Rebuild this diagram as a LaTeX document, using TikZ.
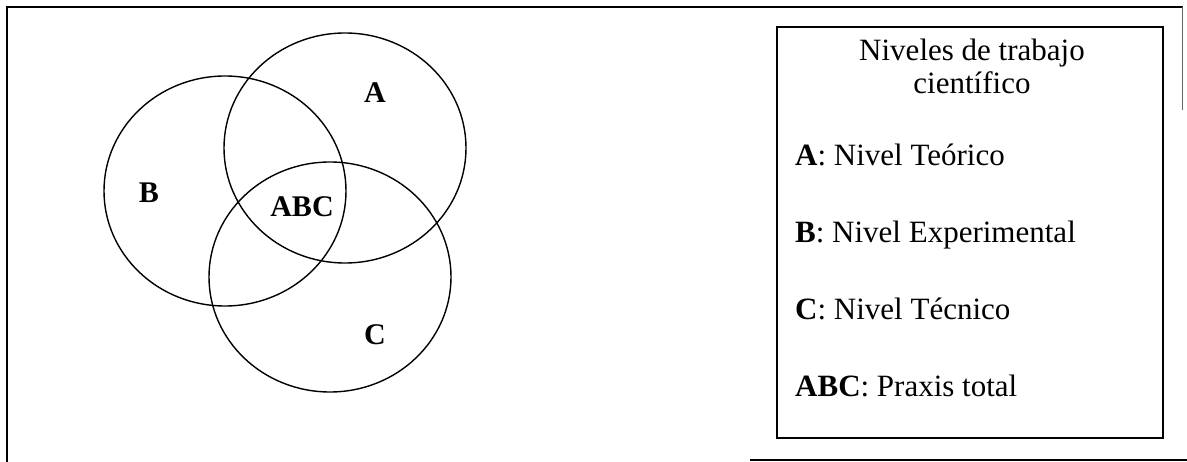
\documentclass[tikz,border=0pt]{standalone}
\usepackage{fontspec}
\setmainfont{Liberation Serif}

\tikzset{
  conjunto/.style={line width=1.4pt, black},
  marco/.style={line width=1.8pt, black},
  etiqueta/.style={font=\fontsize{30}{34}\selectfont\bfseries, inner sep=0pt},
  leyenda/.style={font=\fontsize{31}{35}\selectfont, anchor=base west, inner sep=0pt},
}

\begin{document}
\begin{tikzpicture}[x=1pt, y=-1pt]
			\useasboundingbox (0,0) rectangle (1187,462);
			% Marco exterior
			\draw[marco] (7,462) -- (7,7) -- (1183,7);
			\draw[line width=0.8pt, black!60] (1182,7) -- (1182,110);
			\draw[marco] (750,460) -- (1187,460);
			
			% Conjuntos
			\coordinate (cA) at (345,148);
			\coordinate (cB) at (225,191);
			\coordinate (cC) at (330,277);
			\draw[conjunto] (cA) ellipse [x radius=121pt, y radius=115pt];
			\draw[conjunto] (cB) ellipse [x radius=121pt, y radius=115pt];
			\draw[conjunto] (cC) ellipse [x radius=121pt, y radius=115pt];
			
			\node[etiqueta] (etqA) at (375,93) {A};
			\node[etiqueta] (etqB) at (149,193) {B};
			\node[etiqueta] (etqABC) at (302,207) {ABC};
			\node[etiqueta] (etqC) at (375,335) {C};
			
			% Leyenda
			\draw[marco] (777,27) rectangle (1163,438);
			\node[leyenda, anchor=base] (titulo1) at (972,61) {Niveles de trabajo};
			\node[leyenda, anchor=base] (titulo2) at (972,94) {cient\'ifico};
			\node[leyenda] (nivA) at (795,166) {\textbf{A}: Nivel Te\'orico};
			\node[leyenda] (nivB) at (795,243) {\textbf{B}: Nivel Experimental};
			\node[leyenda] (nivC) at (795,320) {\textbf{C}: Nivel T\'ecnico};
			\node[leyenda] (nivABC) at (795,397) {\textbf{ABC}: Praxis total};
\end{tikzpicture}
\end{document}
